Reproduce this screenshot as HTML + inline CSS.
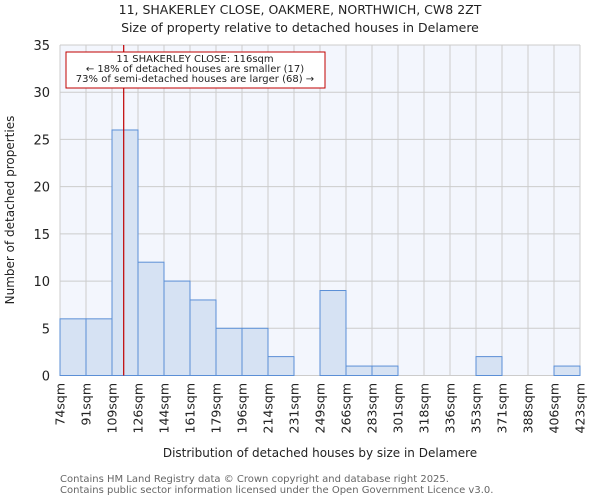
<!DOCTYPE html>
<html><head><meta charset="utf-8"><style>
body{margin:0;background:#fff;}
svg{display:block;font-family:"DejaVu Sans","Liberation Sans",sans-serif;}
</style></head><body>
<svg id="chart" width="600" height="500">
<rect x="0" y="0" width="600" height="500" fill="#fff"/>
<text x="300" y="14" text-anchor="middle" font-size="12.5" fill="#222">11, SHAKERLEY CLOSE, OAKMERE, NORTHWICH, CW8 2ZT</text>
<text x="300" y="32" text-anchor="middle" font-size="12.5" fill="#222">Size of property relative to detached houses in Delamere</text>
<rect x="60" y="45" width="520" height="330.5" fill="#f3f6fd"/>
<g id="grid"></g>
<g id="bars"></g>
<g id="yticks"></g>
<g id="xticks"></g>
<line id="marker" stroke="#c00000" stroke-width="1.2"/>
<g>
<rect x="66" y="52" width="259" height="36" fill="#fff" stroke="#c00000" stroke-width="1"/>
<text x="195" y="62" text-anchor="middle" font-size="10" fill="#222">11 SHAKERLEY CLOSE: 116sqm</text>
<text x="195" y="72" text-anchor="middle" font-size="10" fill="#222">← 18% of detached houses are smaller (17)</text>
<text x="195" y="82" text-anchor="middle" font-size="10" fill="#222">73% of semi-detached houses are larger (68) →</text>
</g>
<text transform="translate(14,210) rotate(-90)" text-anchor="middle" font-size="12" fill="#222">Number of detached properties</text>
<text x="320" y="457" text-anchor="middle" font-size="12" fill="#222">Distribution of detached houses by size in Delamere</text>
<text x="60" y="482" font-size="10" fill="#666">Contains HM Land Registry data © Crown copyright and database right 2025.</text>
<text x="60" y="493" font-size="10" fill="#666">Contains public sector information licensed under the Open Government Licence v3.0.</text>
</svg>
<script>
const binLabels=["74sqm","91sqm","109sqm","126sqm","144sqm","161sqm","179sqm","196sqm","214sqm","231sqm","249sqm","266sqm","283sqm","301sqm","318sqm","336sqm","353sqm","371sqm","388sqm","406sqm","423sqm"];
const counts=[6,6,26,12,10,8,5,5,2,0,9,1,1,0,0,0,2,0,0,1];
const yTicks=[0,5,10,15,20,25,30,35];
const propertyBinPos=2.45;
const NS="http://www.w3.org/2000/svg";
const X0=60,X1=580,Y0=375.5,Y1=45,YMAX=35;
const nb=counts.length;
function xs(i){return X0+(X1-X0)*i/nb;}
function ys(v){return Y0-(Y0-Y1)*v/YMAX;}
function mk(t,a,p){const e=document.createElementNS(NS,t);for(const k in a)e.setAttribute(k,a[k]);p.appendChild(e);return e;}
const grid=document.getElementById('grid'),bars=document.getElementById('bars'),yt=document.getElementById('yticks'),xt=document.getElementById('xticks');
for(let i=0;i<=nb;i++){const l=mk('line',{x1:xs(i),x2:xs(i),y1:Y1,y2:Y0,stroke:'#cccccc','stroke-width':1},grid);

}
yTicks.forEach(v=>{const l=mk('line',{x1:X0,x2:X1,y1:ys(v),y2:ys(v),stroke:'#cccccc','stroke-width':1},grid);


const t=mk('text',{x:X0-10,y:ys(v)+5,'text-anchor':'end','font-size':13,fill:'#222'},yt);t.textContent=v;

});
counts.forEach((c,i)=>{if(c<=0)return;const r=mk('rect',{x:xs(i),y:ys(c),width:xs(i+1)-xs(i),height:Y0-ys(c),fill:'#d6e2f3',stroke:'#5b8fd6','stroke-width':1},bars);

});
binLabels.forEach((s,i)=>{const t=mk('text',{transform:`translate(${xs(i)+4.5},383) rotate(-90)`,'text-anchor':'end','font-size':12.5,fill:'#222'},xt);t.textContent=s;

});
const m=document.getElementById('marker');const mx=xs(propertyBinPos);
m.setAttribute('x1',mx);m.setAttribute('x2',mx);m.setAttribute('y1',Y1);m.setAttribute('y2',Y0);
</script>
</body></html>
